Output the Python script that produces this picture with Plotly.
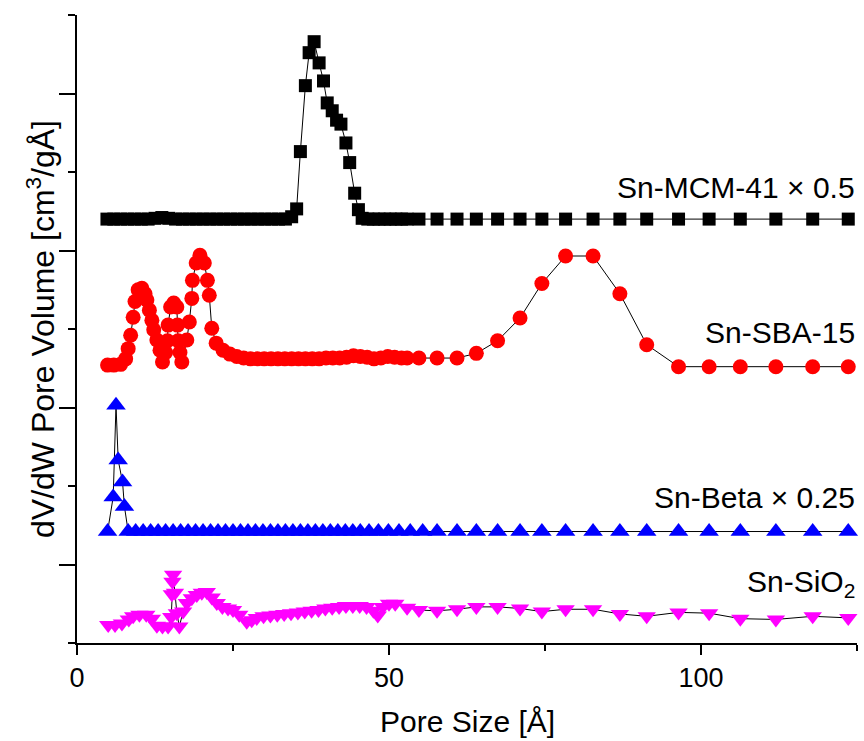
import plotly.graph_objects as go

# ---------------- data (pore size in Å, offset dV/dW in arbitrary units) ----------------
mcm_x = [4.8, 5.9, 7.0, 8.1, 9.2, 10.3, 11.4, 12.5, 13.6, 14.7,
         15.8, 16.9, 18.0, 19.1, 20.2, 21.3, 22.4, 23.5, 24.6, 25.7,
         26.8, 27.9, 29.0, 30.1, 31.2, 32.3, 33.4, 34.4, 35.2, 35.8,
         36.6, 37.2, 38.0, 38.8, 39.5, 40.1, 40.9, 41.6, 42.3, 43.1,
         43.7, 44.5, 45.1, 45.7, 46.6, 47.5, 48.4, 49.3, 50.2, 51.1,
         52.0, 52.9, 54.8, 57.7, 60.9, 64.0, 67.4, 71.0, 74.5, 78.3,
         82.7, 87.0, 91.3, 96.4, 101.3, 106.3, 112.0, 117.9, 123.6]
mcm_y = [5.40, 5.40, 5.40, 5.40, 5.40, 5.40, 5.40, 5.41, 5.42, 5.41,
         5.40, 5.40, 5.40, 5.40, 5.40, 5.40, 5.40, 5.40, 5.40, 5.40,
         5.40, 5.40, 5.40, 5.40, 5.40, 5.40, 5.40, 5.43, 5.53, 6.26,
         7.10, 7.52, 7.66, 7.39, 7.16, 6.88, 6.78, 6.66, 6.61, 6.37,
         6.12, 5.73, 5.52, 5.41, 5.40, 5.40, 5.40, 5.40, 5.40, 5.40,
         5.40, 5.40, 5.40, 5.40, 5.40, 5.40, 5.40, 5.40, 5.40, 5.40,
         5.40, 5.40, 5.40, 5.40, 5.40, 5.40, 5.40, 5.40, 5.40]

sba_x = [4.9, 5.9, 7.0, 7.8, 8.2, 8.6, 9.0, 9.3, 9.8, 10.4,
         10.9, 11.2, 11.6, 12.0, 12.3, 12.8, 13.3, 13.7, 14.2, 14.5,
         14.6, 15.0, 15.5, 16.0, 16.1, 16.2, 16.5, 16.8, 17.6, 18.0,
         18.4, 18.5, 19.1, 19.7, 20.4, 20.9, 21.2, 21.6, 22.3, 23.4,
         24.5, 25.6, 26.7, 27.8, 28.9, 30.0, 31.1, 32.2, 33.3, 34.4,
         35.5, 36.6, 37.7, 38.8, 39.9, 41.0, 42.1, 43.2, 44.3, 45.4,
         46.5, 47.6, 48.7, 49.8, 50.9, 52.0, 52.9, 54.8, 57.7, 60.9,
         64.0, 67.4, 71.0, 74.5, 78.3, 82.7, 87.0, 91.3, 96.4, 101.3,
         106.3, 112.0, 117.9, 123.6]
sba_y = [3.54, 3.54, 3.55, 3.62, 3.75, 3.92, 4.15, 4.35, 4.50, 4.52,
         4.45, 4.37, 4.24, 4.11, 3.99, 3.86, 3.73, 3.58, 3.70, 3.85,
         4.05, 4.28, 4.33, 4.28, 4.05, 3.85, 3.70, 3.58, 3.86, 4.09,
         4.39, 4.62, 4.84, 4.94, 4.84, 4.62, 4.43, 4.01, 3.82, 3.73,
         3.68, 3.65, 3.63, 3.62, 3.62, 3.62, 3.62, 3.62, 3.62, 3.62,
         3.62, 3.62, 3.62, 3.62, 3.63, 3.63, 3.63, 3.64, 3.66, 3.65,
         3.64, 3.62, 3.63, 3.65, 3.64, 3.63, 3.63, 3.63, 3.63, 3.63,
         3.69, 3.85, 4.14, 4.58, 4.93, 4.93, 4.45, 3.80, 3.52, 3.52,
         3.52, 3.52, 3.52, 3.52]

beta_x = [4.9, 5.8, 6.25, 6.6, 7.3, 7.6, 8.2, 9.4, 10.6, 11.8,
          13.0, 14.2, 15.4, 16.6, 17.8, 19.0, 20.2, 21.4, 22.6, 23.8,
          25.0, 26.2, 27.4, 28.6, 29.8, 31.0, 32.2, 33.4, 34.6, 35.8,
          37.0, 38.2, 39.4, 40.6, 41.8, 43.0, 44.2, 45.4, 46.8, 48.3,
          49.9, 51.6, 53.4, 55.4, 57.7, 60.9, 64.0, 67.4, 71.0, 74.5,
          78.3, 82.7, 87.0, 91.3, 96.4, 101.3, 106.3, 112.0, 117.9, 123.6]
beta_y = [1.42, 1.86, 3.03, 2.33, 2.05, 1.74, 1.42, 1.42, 1.42, 1.42,
          1.42, 1.42, 1.42, 1.42, 1.42, 1.42, 1.42, 1.42, 1.42, 1.42,
          1.42, 1.42, 1.42, 1.42, 1.42, 1.42, 1.42, 1.42, 1.42, 1.42,
          1.42, 1.42, 1.42, 1.42, 1.42, 1.42, 1.42, 1.42, 1.42, 1.42,
          1.42, 1.42, 1.42, 1.42, 1.42, 1.42, 1.42, 1.42, 1.42, 1.42,
          1.42, 1.42, 1.42, 1.42, 1.42, 1.42, 1.42, 1.42, 1.42, 1.42]

sio2_x = [5.0, 6.1, 7.2, 8.3, 9.0, 10.0, 11.1, 12.0, 12.8, 13.7,
          14.6, 15.1, 15.2, 15.3, 15.4, 15.7, 16.0, 16.4, 17.0, 17.6,
          18.4, 19.2, 20.0, 20.8, 21.6, 22.4, 23.3, 24.2, 25.0, 26.0,
          27.2, 28.0, 28.8, 29.9, 31.0, 32.1, 33.2, 34.3, 35.4, 36.5,
          37.6, 38.7, 39.8, 40.9, 42.0, 43.1, 44.2, 45.3, 46.4, 47.5,
          48.2, 49.0, 50.0, 51.0, 52.9, 54.8, 57.7, 60.9, 64.0, 67.4,
          71.0, 74.5, 78.3, 82.7, 87.0, 91.3, 96.4, 101.3, 106.3, 112.0,
          117.9, 123.6]
sio2_y = [0.23, 0.23, 0.25, 0.30, 0.34, 0.36, 0.36, 0.31, 0.22, 0.21,
          0.21, 0.33, 0.62, 0.78, 0.87, 0.64, 0.38, 0.21, 0.40, 0.51,
          0.57, 0.61, 0.64, 0.65, 0.58, 0.51, 0.46, 0.44, 0.42, 0.36,
          0.27, 0.29, 0.32, 0.34, 0.35, 0.36, 0.37, 0.38, 0.39, 0.40,
          0.41, 0.42, 0.44, 0.45, 0.46, 0.47, 0.47, 0.47, 0.46, 0.41,
          0.35, 0.46, 0.50, 0.50, 0.45, 0.42, 0.41, 0.43, 0.46, 0.46,
          0.44, 0.40, 0.43, 0.43, 0.37, 0.34, 0.39, 0.38, 0.31, 0.30,
          0.34, 0.32]

labels = ["Sn-MCM-41 \u00d7 0.5", "Sn-SBA-15", "Sn-Beta \u00d7 0.25", "Sn-SiO<sub>2</sub>"]
label_y = [5.80, 3.95, 1.85, 0.76]

x_ticks = [0, 50, 100]
x_minor = [25, 75, 125]
y_major = [1, 3, 5, 7]
y_minor = [0, 2, 4, 6, 8]

FONT = "Liberation Sans, Arial, sans-serif"

fig = go.Figure()
series = [
    (mcm_x, mcm_y, "square", "#000000", 13),
    (sba_x, sba_y, "circle", "#FF0000", 15),
    (beta_x, beta_y, "triangle-up", "#0000FF", 17),
    (sio2_x, sio2_y, "triangle-down", "#FF00FF", 16),
]
for xs, ys, sym, col, sz in series:
    fig.add_trace(go.Scatter(
        x=xs, y=ys, mode="lines+markers",
        line=dict(color="black", width=1),
        marker=dict(symbol=sym, color=col, size=sz, line=dict(width=0)),
        showlegend=False, cliponaxis=False,
    ))

for txt, yv in zip(labels, label_y):
    fig.add_annotation(x=125, y=yv, xref="x", yref="y", text=txt,
                       showarrow=False, xanchor="right", yanchor="middle",
                       font=dict(family=FONT, size=30, color="black"))

fig.add_annotation(x=0.5, y=0, xref="paper", yref="paper", yshift=-78,
                   text="Pore Size [Å]", showarrow=False, xanchor="center",
                   yanchor="middle", font=dict(family=FONT, size=30, color="black"))
fig.add_annotation(x=0, y=0.5, xref="paper", yref="paper", xshift=-36,
                   text="dV/dW Pore Volume [cm<sup>3</sup>/gÅ]", textangle=-90,
                   showarrow=False, xanchor="center", yanchor="middle",
                   font=dict(family=FONT, size=32, color="black"))

fig.update_layout(
    width=864, height=741,
    margin=dict(l=77, r=7, t=15, b=98),
    paper_bgcolor="white", plot_bgcolor="white",
    font=dict(family=FONT, color="black"),
    xaxis=dict(range=[0, 125], tickmode="array", tickvals=x_ticks,
               ticks="outside", ticklen=10, tickwidth=2, tickcolor="black",
               showline=True, linewidth=2, linecolor="black", showgrid=False,
               zeroline=False, tickfont=dict(family=FONT, size=27, color="black"),
               minor=dict(tickmode="array", tickvals=x_minor, ticks="outside",
                          ticklen=6, tickwidth=2, tickcolor="black", showgrid=False)),
    yaxis=dict(range=[0, 8], tickmode="array", tickvals=y_major,
               showticklabels=False,
               ticks="outside", ticklen=16, tickwidth=2, tickcolor="black",
               showline=True, linewidth=2, linecolor="black", showgrid=False,
               zeroline=False,
               minor=dict(tickmode="array", tickvals=y_minor, ticks="outside",
                          ticklen=7, tickwidth=2, tickcolor="black", showgrid=False)),
)

fig.write_html("out.html")
